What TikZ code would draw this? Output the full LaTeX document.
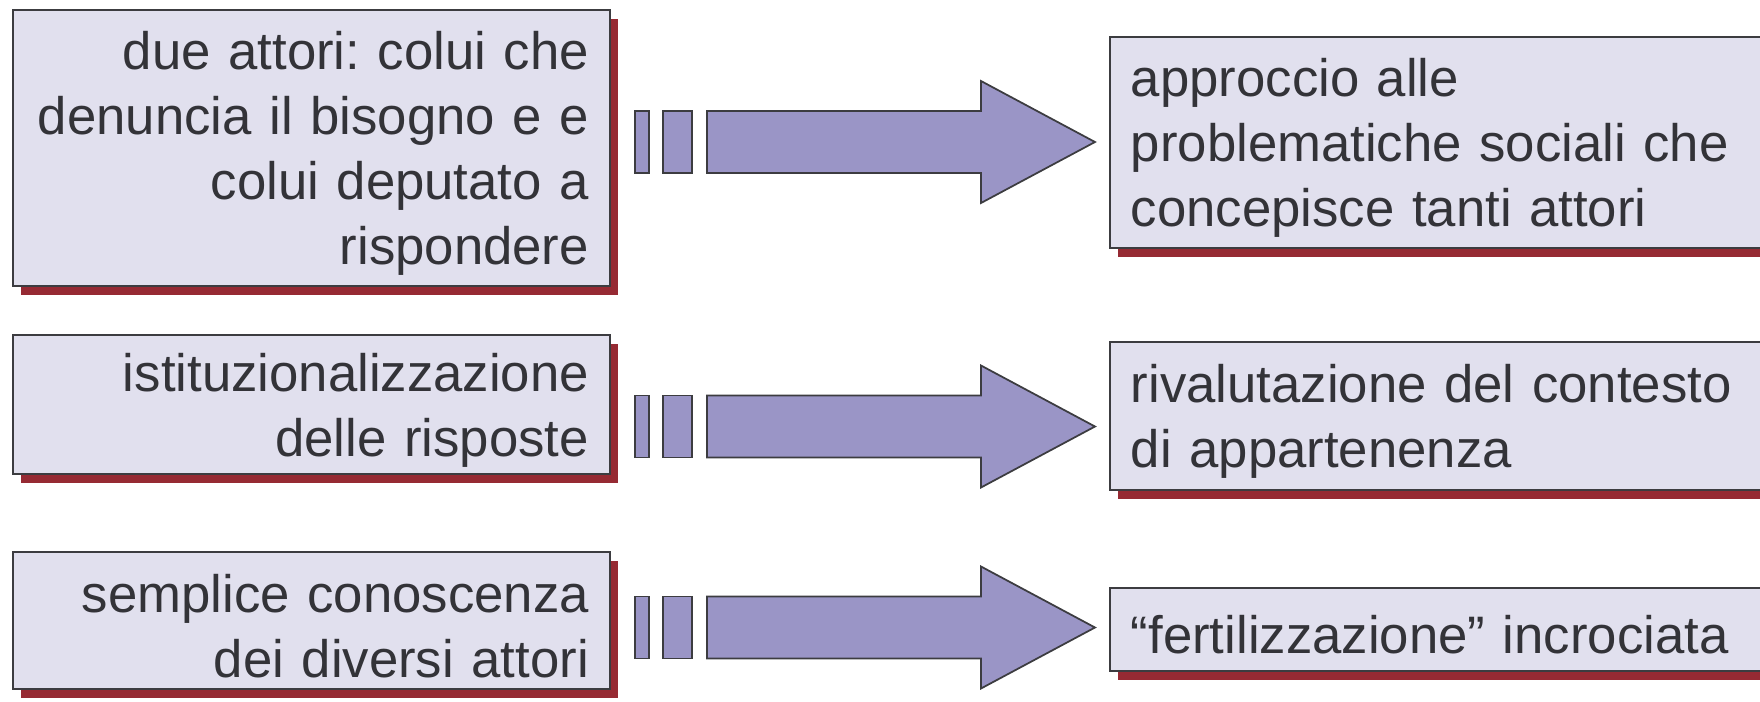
\documentclass[tikz,border=0pt]{standalone}
\usepackage{fontspec}
\setmainfont{Liberation Sans}
\usepackage{tikz}
\usetikzlibrary{positioning}
\usetikzlibrary{shadows}

\definecolor{boxfill}{HTML}{E1E0EE}
\definecolor{boxedge}{HTML}{3C3C40}
\definecolor{boxshadow}{HTML}{962A33}
\definecolor{arrowfill}{HTML}{9A95C6}
\definecolor{textgray}{HTML}{333338}

\tikzset{
  box/.style={draw=boxedge, fill=boxfill, line width=0.5pt, anchor=north west,
    inner xsep=0.21cm, inner ysep=0pt, text=textgray,
    font=\fontsize{15}{18.5}\selectfont\frenchspacing,
    execute at begin node={\rule{0pt}{14pt}},
    drop shadow={shadow xshift=0.08cm, shadow yshift=-0.09cm, fill=boxshadow, opacity=1}},
  leftbox/.style={box, minimum width=5.97cm, text width=5.55cm, align=right},
  rightbox/.style={box, minimum width=6.8cm, text width=6.38cm, align=left},
  blockarrow/.style={draw=boxedge, fill=arrowfill, line width=0.5pt}
}

\begin{document}
\begin{tikzpicture}

\useasboundingbox (0,0) rectangle (17.6,-7.01);

\node (l1) [leftbox, minimum height=2.76cm] at (0.12,-0.09) {due attori: colui che\\ denuncia il bisogno e e\\ colui deputato a\\ rispondere};
\node (l2) [leftbox, minimum height=1.39cm] at (0.12,-3.34) {istituzionalizzazione\\ delle risposte};
\node (l3) [leftbox, minimum height=1.37cm] at (0.12,-5.51) {semplice conoscenza\\ dei diversi attori};

\node (r1) [rightbox, minimum height=2.11cm] at (11.09,-0.36) {approccio alle\\ problematiche sociali che\\ concepisce tanti attori};
\node (r2) [rightbox, minimum height=1.48cm] at (11.09,-3.41) {rivalutazione del contesto\\ di appartenenza};
\node (r3) [rightbox, minimum height=0.83cm] at (11.09,-5.87) {``fertilizzazione'' incrociata};

% block arrows between the rows
\foreach \y in {-1.42,-4.265,-6.275} {
  \draw[blockarrow] (6.35,\y-0.31) rectangle (6.49,\y+0.31);
  \draw[blockarrow] (6.63,\y-0.31) rectangle (6.92,\y+0.31);
  \draw[blockarrow] (7.07,\y-0.31) -- (9.81,\y-0.31) -- (9.81,\y-0.61) -- (10.95,\y)
    -- (9.81,\y+0.61) -- (9.81,\y+0.31) -- (7.07,\y+0.31) -- cycle;
}

\end{tikzpicture}
\end{document}
